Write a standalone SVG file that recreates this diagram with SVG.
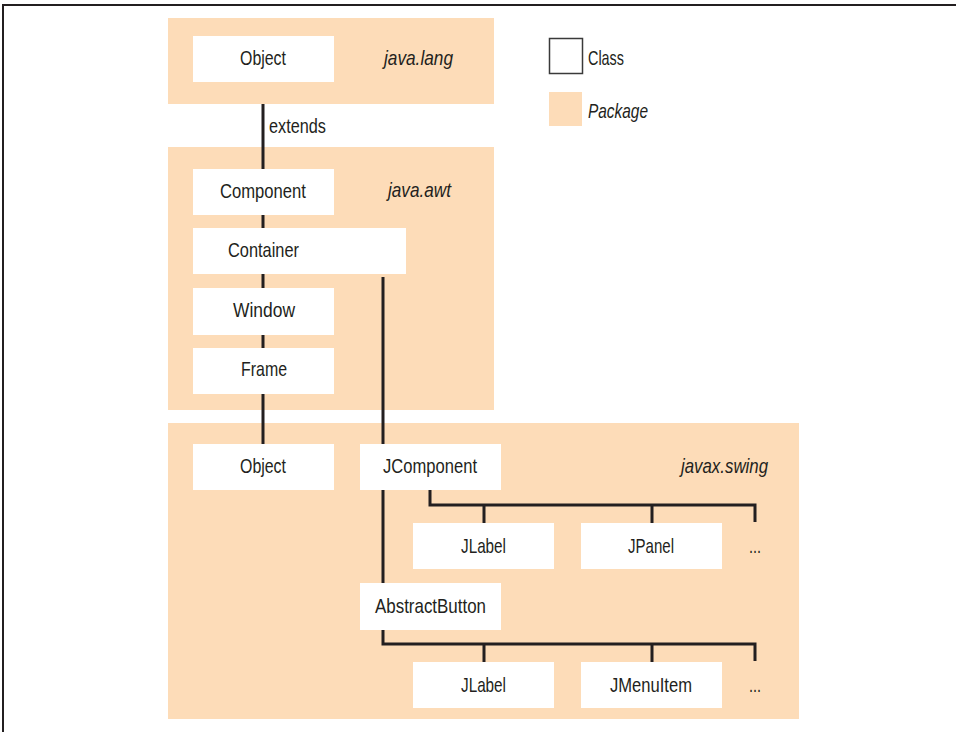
<svg xmlns="http://www.w3.org/2000/svg" width="956" height="732" viewBox="0 0 956 732">
<style>
.pkg{fill:#fddcb8}
.cls{fill:#ffffff}
.ln{stroke:#231f20;stroke-width:3;fill:none}
text{font-family:"Liberation Sans",Arial,sans-serif;font-size:21px;fill:#231f20}
.it{font-style:italic}
</style>
<rect width="956" height="732" fill="#ffffff"/>
<path d="M3 732 V5 H956" stroke="#231f20" stroke-width="2" fill="none"/>
<g id="pkg-java-lang"><rect class="pkg" x="168" y="18" width="326" height="86"/><text class="it" x="384" y="65" textLength="69" lengthAdjust="spacingAndGlyphs">java.lang</text></g>
<g id="pkg-java-awt"><rect class="pkg" x="168" y="147" width="326" height="263"/><text class="it" x="388" y="197" textLength="63" lengthAdjust="spacingAndGlyphs">java.awt</text></g>
<g id="pkg-javax-swing"><rect class="pkg" x="168" y="423" width="631" height="296"/><text class="it" x="681" y="473" textLength="87" lengthAdjust="spacingAndGlyphs">javax.swing</text></g>
<g id="connectors">
<path class="ln" d="M263 104 V444"/>
<path class="ln" d="M383 277 V583"/>
<path class="ln" d="M430 490 V505 H755 V522 M484 505 V523 M652 505 V523"/>
<path class="ln" d="M383 630 V644 H755 V661 M484 644 V662 M652 644 V662"/>
<text x="269" y="133" textLength="57" lengthAdjust="spacingAndGlyphs">extends</text>
</g>
<g id="Object-lang"><rect class="cls" x="193" y="36" width="141" height="46"/><text x="240" y="65" textLength="46" lengthAdjust="spacingAndGlyphs">Object</text></g>
<g id="Component"><rect class="cls" x="193" y="169" width="141" height="46"/><text x="220" y="198" textLength="86" lengthAdjust="spacingAndGlyphs">Component</text></g>
<g id="Container"><rect class="cls" x="193" y="228" width="213" height="46"/><text x="228" y="257" textLength="71" lengthAdjust="spacingAndGlyphs">Container</text></g>
<g id="Window"><rect class="cls" x="193" y="288" width="141" height="47"/><text x="233" y="317" textLength="62" lengthAdjust="spacingAndGlyphs">Window</text></g>
<g id="Frame"><rect class="cls" x="193" y="348" width="141" height="46"/><text x="241" y="376" textLength="46" lengthAdjust="spacingAndGlyphs">Frame</text></g>
<g id="Object-swing"><rect class="cls" x="193" y="444" width="141" height="46"/><text x="240" y="473" textLength="46" lengthAdjust="spacingAndGlyphs">Object</text></g>
<g id="JComponent"><rect class="cls" x="360" y="444" width="141" height="46"/><text x="383" y="473" textLength="94" lengthAdjust="spacingAndGlyphs">JComponent</text></g>
<g id="JLabel1"><rect class="cls" x="413" y="523" width="141" height="46"/><text x="461" y="553" textLength="45" lengthAdjust="spacingAndGlyphs">JLabel</text></g>
<g id="JPanel"><rect class="cls" x="581" y="523" width="141" height="46"/><text x="628" y="553" textLength="46" lengthAdjust="spacingAndGlyphs">JPanel</text></g>
<g id="more1"><text x="749" y="553" textLength="12" lengthAdjust="spacingAndGlyphs">...</text></g>
<g id="AbstractButton"><rect class="cls" x="360" y="583" width="141" height="47"/><text x="375" y="613" textLength="111" lengthAdjust="spacingAndGlyphs">AbstractButton</text></g>
<g id="JLabel2"><rect class="cls" x="413" y="662" width="141" height="46"/><text x="461" y="692" textLength="45" lengthAdjust="spacingAndGlyphs">JLabel</text></g>
<g id="JMenuItem"><rect class="cls" x="581" y="662" width="141" height="46"/><text x="610" y="692" textLength="82" lengthAdjust="spacingAndGlyphs">JMenuItem</text></g>
<g id="more2"><text x="749" y="692" textLength="12" lengthAdjust="spacingAndGlyphs">...</text></g>
<g id="legend">
<rect x="549.5" y="38.5" width="33" height="35" fill="#ffffff" stroke="#3a3a3a" stroke-width="1.5"/>
<text x="588" y="65" textLength="36" lengthAdjust="spacingAndGlyphs">Class</text>
<rect class="pkg" x="549" y="92" width="33" height="34"/>
<text class="it" x="588" y="118" textLength="60" lengthAdjust="spacingAndGlyphs">Package</text>
</g>
</svg>
